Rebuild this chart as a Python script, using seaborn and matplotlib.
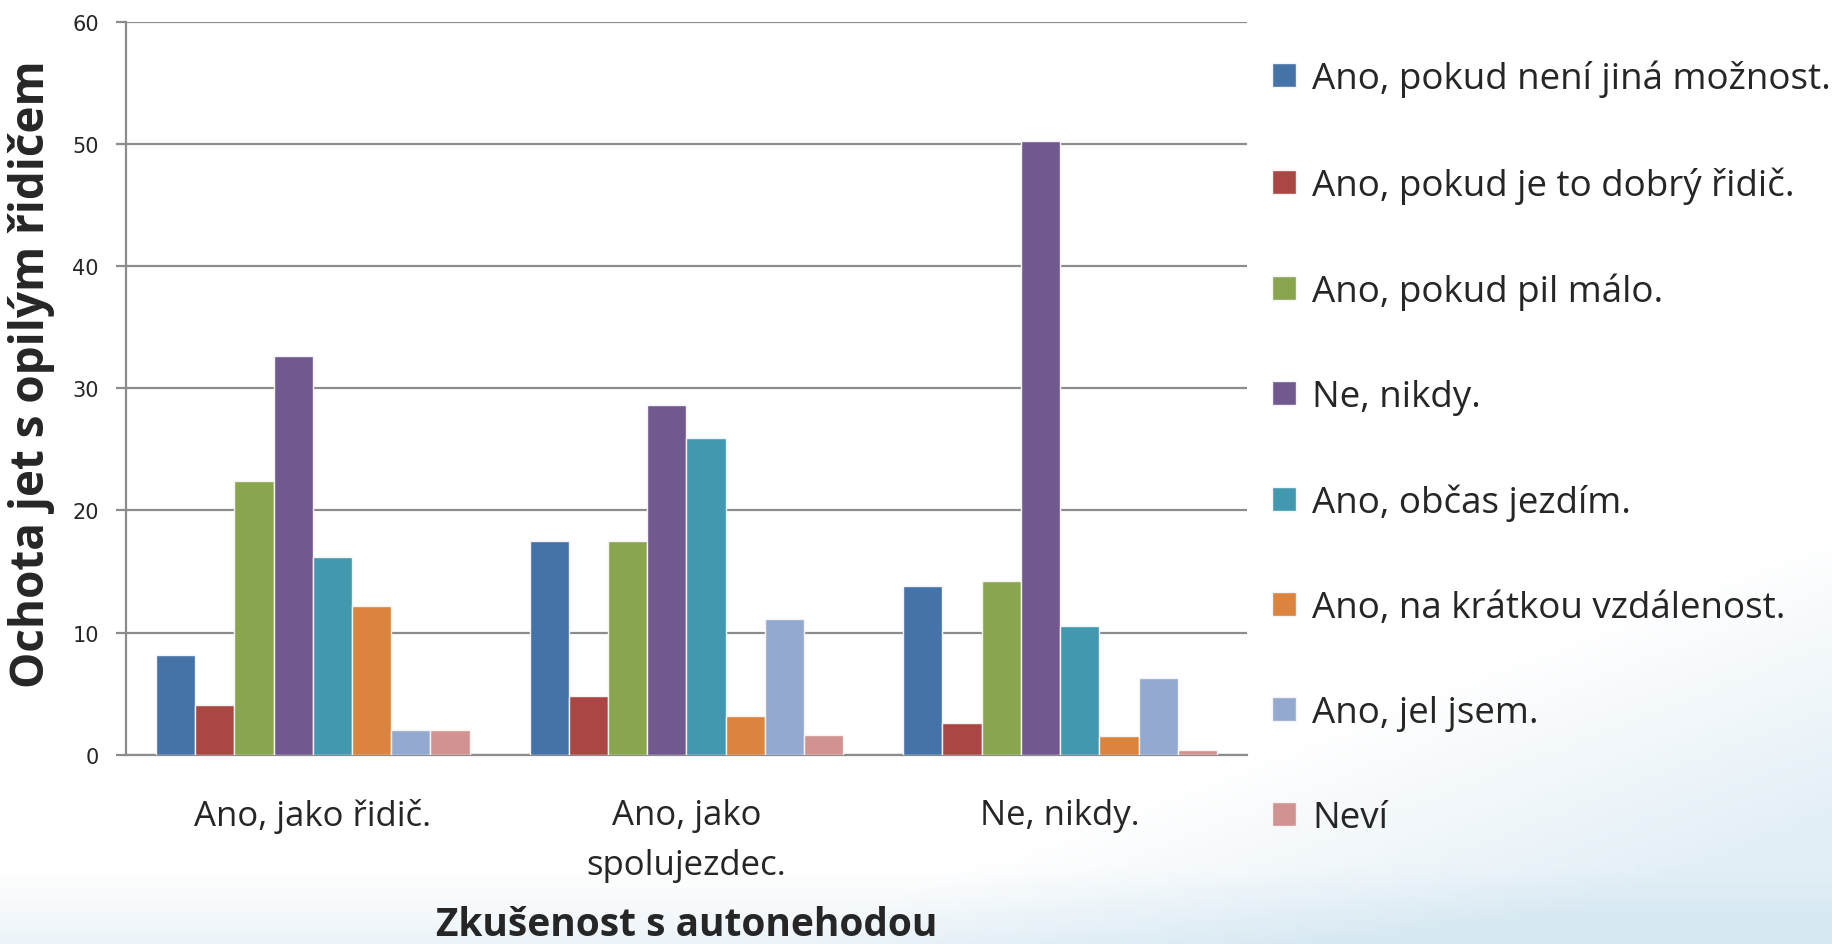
import pandas as pd
import numpy as np
import matplotlib.pyplot as plt
import seaborn as sns

# data
zkusenost = ['Ano, jako řidič.', 'Ano, jako\nspolujezdec.', 'Ne, nikdy.']
ochota = ['Ano, pokud není jiná možnost.', 'Ano, pokud je to dobrý řidič.',
          'Ano, pokud pil málo.', 'Ne, nikdy.', 'Ano, občas jezdím.',
          'Ano, na krátkou vzdálenost.', 'Ano, jel jsem.', 'Neví']
ridic = [8.2, 4.1, 22.4, 32.6, 16.2, 12.2, 2.0, 2.0]
spolujezdec = [17.5, 4.8, 17.5, 28.6, 25.9, 3.2, 11.1, 1.6]
nikdy = [13.8, 2.6, 14.2, 50.2, 10.5, 1.5, 6.3, 0.4]
y_ticks = [0, 10, 20, 30, 40, 50, 60]

barvy = ['#4572A7', '#AA4643', '#89A54E', '#71588F',
         '#4198AF', '#DB843D', '#93A9CF', '#D19392']

rows = []
for kat, vals in zip(zkusenost, [ridic, spolujezdec, nikdy]):
    for o, v in zip(ochota, vals):
        rows.append({'zkusenost': kat, 'ochota': o, 'procento': v})
df = pd.DataFrame(rows)

sns.set_style('white')
plt.rcParams['font.family'] = ['Open Sans', 'DejaVu Sans']

fig = plt.figure(figsize=(18.33, 9.45), dpi=100)

# light blue slide background (bottom right sweep)
bg = fig.add_axes([0, 0, 1, 1], zorder=-5)
u, v = np.meshgrid(np.linspace(0, 1, 400), np.linspace(0, 1, 200))
line = (u - 0.42) * 0.75
a = np.clip((line - v) / 0.30, 0, 1) * 0.55 + np.clip((0.08 - v) / 0.08, 0, 1) * 0.35
img = np.zeros((200, 400, 4))
img[..., 0], img[..., 1], img[..., 2] = 0.80, 0.89, 0.94
img[..., 3] = np.clip(a, 0, 0.75)
bg.imshow(img, origin='lower', extent=[0, 1, 0, 1], aspect='auto')
bg.set_axis_off()

ax = fig.add_axes([0.0687, 0.2003, 0.6116, 0.7757])
ax.set_facecolor('white')

sns.barplot(data=df, x='zkusenost', y='procento', hue='ochota', order=zkusenost,
            hue_order=ochota, palette=barvy, saturation=1, width=0.84,
            edgecolor='#f4f4f4', linewidth=1, ax=ax, zorder=3)

ax.set_ylim(0, 60)
ax.set_yticks(y_ticks)
ax.yaxis.grid(True, color='#8c8c8c', linewidth=1.6, zorder=0)
ax.set_axisbelow(True)
for s in ['top', 'right']:
    ax.spines[s].set_visible(False)
for s in ['left', 'bottom']:
    ax.spines[s].set_color('#8c8c8c')
    ax.spines[s].set_linewidth(1.6)
ax.tick_params(axis='y', which='major', left=True, length=7.5, width=1.6,
               color='#8c8c8c', pad=12, labelsize=15, labelfontfamily='DejaVu Sans')
ax.tick_params(axis='x', bottom=False, labelsize=25, pad=28)
for t in ax.get_xticklabels():
    t.set_linespacing(1.6)

ax.set_xlabel('Zkušenost s autonehodou', fontsize=28, fontweight='bold')
ax.xaxis.set_label_coords(0.5, -0.231)
ax.xaxis.label.set_va('center')
ax.set_ylabel('Ochota jet s opilým řidičem', fontsize=33, fontweight='bold')
ax.yaxis.set_label_coords(-0.084, 0.521)
ax.yaxis.label.set_va('center')

handles, labels = ax.get_legend_handles_labels()
ax.legend(handles, labels, loc='upper left', bbox_to_anchor=(1.0223, 0.948),
          frameon=False, fontsize=26.5, handlelength=0.65, handleheight=0.63,
          handletextpad=0.45, labelspacing=1.87, borderpad=0, borderaxespad=0)

fig.savefig('out.png', dpi=100)
